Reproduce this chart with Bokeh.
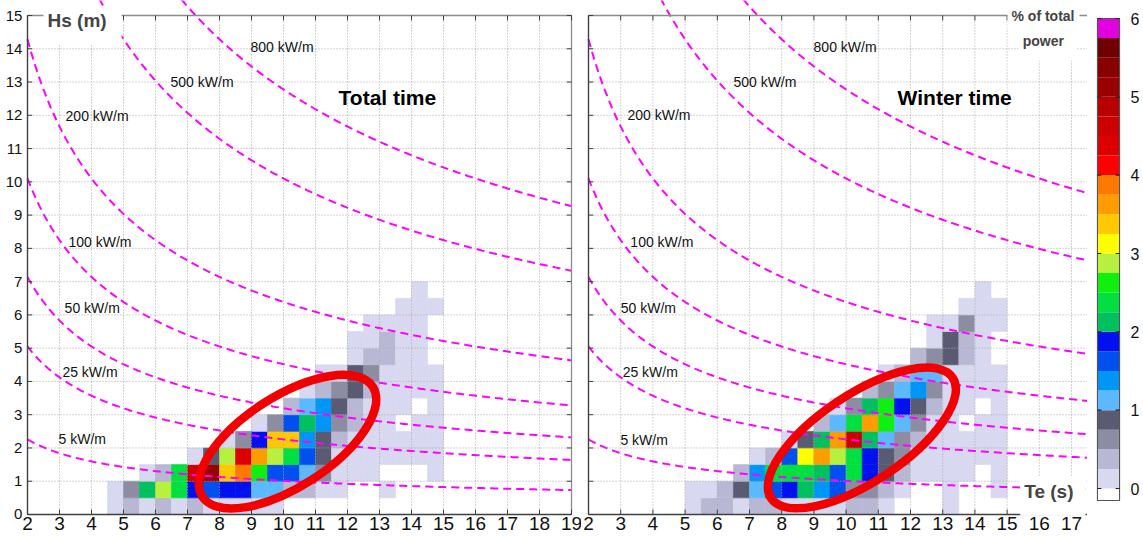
import numpy as np
from bokeh.plotting import figure
from bokeh.models import (ColumnDataSource, LinearColorMapper, FixedTicker,
                          Label, Range1d)
from bokeh.layouts import row
from bokeh.core.properties import value
from bokeh.embed import file_html
from bokeh.resources import INLINE

# ------------------------------------------------------------------ data
# lower edges of the Te (s) and Hs (m) bins (bin size 0.5)
te_bins = [4.5, 5.0, 5.5, 6.0, 6.5, 7.0, 7.5, 8.0, 8.5, 9.0, 9.5, 10.0,
           10.5, 11.0, 11.5, 12.0, 12.5, 13.0, 13.5, 14.0, 14.5]
hs_bins = [0.0, 0.5, 1.0, 1.5, 2.0, 2.5, 3.0, 3.5, 4.0, 4.5, 5.0, 5.5, 6.0, 6.5]

# % of total power per (Hs row, Te column); 0 = empty cell
total_time = [
    [.1, .4, .1, .4, .1, .4, .1, .1, .1, .1, .1, 0, 0, 0, 0, 0, 0, 0, 0, 0, 0],
    [.1, .6, 2.1, 2.9, 2.4, 1.9, 1.6, 1.9, 1.9, 1.1, 1.1, .4, .4, .1, .1, 0, 0, .1, 0, 0, 0],
    [0, 0, .1, .4, 2.4, 4.6, 5.1, 3.4, 3.9, 2.6, 1.6, 1.6, 1.1, .6, .1, .1, .1, 0, 0, 0, .1],
    [0, 0, 0, 0, 0, .1, .9, 2.9, 4.4, 3.6, 2.9, 2.4, 1.6, .9, .1, .1, .1, .1, .1, .1, .1],
    [0, 0, 0, 0, 0, 0, 0, .1, .6, 1.9, 3.4, 3.4, 1.4, .9, .4, .1, .1, .1, .1, .1, .1],
    [0, 0, 0, 0, 0, 0, 0, 0, 0, .1, .6, 1.6, 2.1, 1.4, .6, .4, .1, .1, 0, .1, .1],
    [0, 0, 0, 0, 0, 0, 0, 0, 0, 0, 0, .4, 1.1, 1.4, .9, .4, .1, .1, .1, 0, .1],
    [0, 0, 0, 0, 0, 0, 0, 0, 0, 0, 0, 0, .1, .4, .6, .9, .4, .1, .1, .1, .1],
    [0, 0, 0, 0, 0, 0, 0, 0, 0, 0, 0, 0, 0, .1, .1, .9, .6, .1, .1, .1, .1],
    [0, 0, 0, 0, 0, 0, 0, 0, 0, 0, 0, 0, 0, 0, 0, .1, .4, .4, .1, .1, 0],
    [0, 0, 0, 0, 0, 0, 0, 0, 0, 0, 0, 0, 0, 0, 0, .1, .1, .4, .1, .1, 0],
    [0, 0, 0, 0, 0, 0, 0, 0, 0, 0, 0, 0, 0, 0, 0, 0, .1, .1, .1, .1, 0],
    [0, 0, 0, 0, 0, 0, 0, 0, 0, 0, 0, 0, 0, 0, 0, 0, 0, 0, .1, .1, .1],
    [0, 0, 0, 0, 0, 0, 0, 0, 0, 0, 0, 0, 0, 0, 0, 0, 0, 0, 0, .1, 0],
]

winter_time = [
    [0, .1, .4, .4, .1, .4, .4, .1, .1, .1, .1, .4, .4, .1, 0, 0, 0, .1, 0, 0, 0],
    [0, .1, .1, .4, .9, 1.1, 1.6, 1.9, 2.1, 1.4, 1.6, .6, .6, .4, .1, 0, 0, .1, 0, 0, .1],
    [0, 0, 0, 0, .4, 1.4, 2.4, 2.4, 2.4, 2.1, 1.6, 2.4, 1.9, .9, .4, .1, .1, .1, .1, 0, .1],
    [0, 0, 0, 0, 0, .1, .4, 1.6, 3.1, 3.6, 2.9, 2.4, 1.9, .9, .6, .1, .1, .1, .1, .1, .1],
    [0, 0, 0, 0, 0, 0, 0, .1, .9, 2.1, 3.6, 4.6, 2.1, 1.1, .6, .4, .1, .1, .1, .1, .1],
    [0, 0, 0, 0, 0, 0, 0, 0, 0, .4, 1.1, 2.4, 3.6, 2.6, 1.1, .6, .1, .1, 0, .1, .1],
    [0, 0, 0, 0, 0, 0, 0, 0, 0, 0, .1, .6, 2.1, 2.6, 1.9, .9, .4, .1, .1, 0, .1],
    [0, 0, 0, 0, 0, 0, 0, 0, 0, 0, 0, 0, .4, .6, 1.1, 1.4, .6, .1, .1, .1, .1],
    [0, 0, 0, 0, 0, 0, 0, 0, 0, 0, 0, 0, 0, .1, .4, 1.1, 1.1, .1, .1, .1, .1],
    [0, 0, 0, 0, 0, 0, 0, 0, 0, 0, 0, 0, 0, 0, 0, .4, .6, .9, .4, .1, 0],
    [0, 0, 0, 0, 0, 0, 0, 0, 0, 0, 0, 0, 0, 0, 0, 0, .1, .9, .4, .1, 0],
    [0, 0, 0, 0, 0, 0, 0, 0, 0, 0, 0, 0, 0, 0, 0, 0, .1, .1, .6, .1, .1],
    [0, 0, 0, 0, 0, 0, 0, 0, 0, 0, 0, 0, 0, 0, 0, 0, 0, 0, .1, .1, .1],
    [0, 0, 0, 0, 0, 0, 0, 0, 0, 0, 0, 0, 0, 0, 0, 0, 0, 0, 0, .1, 0],
]

# iso-power lines P = 0.49 Hs^2 Te (kW/m)
power_levels = [5, 25, 50, 100, 200, 500, 800]
power_labels = ["5 kW/m", "25 kW/m", "50 kW/m", "100 kW/m",
                "200 kW/m", "500 kW/m", "800 kW/m"]

# colour scale: 24 steps of 0.25 % from 0 to 6 %
level_colors = ["#d8d8f0", "#b8b8d4", "#8c8ca2", "#5a5a72",
                "#5cb8ff", "#0096f5", "#0050f0", "#0010ee",
                "#00c060", "#00e040", "#10f010", "#b8f040",
                "#ffff00", "#ffc800", "#ff9c00", "#ff7800",
                "#ff0000", "#dd0000", "#cc0000", "#b80000",
                "#990000", "#880000", "#700000", "#e000e0"]
colorbar_ticks = [0, 1, 2, 3, 4, 5, 6]
x_ticks_total = list(range(2, 20))
x_ticks_winter = list(range(2, 18))
y_ticks = list(range(0, 16))

# ------------------------------------------------------------------ style / layout
FONT = "Liberation Sans"
H = 537
Y_LO, Y_HI = -0.6914, 15.451      # frame covers the whole figure height
HS_MAX = 15
MAG = "#ff00ff"
EDGE = "#8c8c8c"
AX = "#404040"
GRID = "#a8a8a8"
mapper = LinearColorMapper(palette=level_colors, low=0, high=6)

total_label_pos = [(2.97, 2.28), (3.09, 4.27), (3.16, 6.22), (3.28, 8.2),
                   (3.19, 11.97), (6.47, 13.01), (8.97, 14.04)]
winter_label_pos = [(2.99, 2.25), (3.06, 4.27), (3.0, 6.22), (3.3, 8.2),
                    (3.21, 12.0), (6.5, 13.0), (8.99, 14.04)]


def cells(grid):
    step = te_bins[1] - te_bins[0]
    xs, ys, vs = [], [], []
    for i, hs in enumerate(hs_bins):
        for j, te in enumerate(te_bins):
            v = grid[i][j]
            if v > 0:
                xs.append(te + step / 2)
                ys.append(hs + step / 2)
                vs.append(v)
    return ColumnDataSource(dict(x=xs, y=ys, v=vs))


def panel(grid, x_lo, x_hi, x_end, x_ticks, width, label_pos, title,
          title_pos, ell, y_labels, right_border):
    x0 = x_ticks[0]
    p = figure(width=width, height=H, x_range=Range1d(x_lo, x_hi),
               y_range=Range1d(Y_LO, Y_HI), x_axis_type=None,
               y_axis_type=None, title=None, output_backend="svg",
               toolbar_location=None, min_border=0)
    p.background_fill_color = "white"
    p.border_fill_color = "white"
    p.outline_line_color = None

    # heat-map cells
    p.rect("x", "y", width=0.5, height=0.5, source=cells(grid),
           fill_color={"field": "v", "transform": mapper},
           line_color={"field": "v", "transform": mapper}, line_width=0.6)

    # dotted grid
    n, m = len(x_ticks), len(y_ticks)
    p.segment(x0=x_ticks, y0=[0] * n, x1=x_ticks, y1=[HS_MAX] * n,
              line_color=GRID, line_dash="1 2", line_width=1)
    p.segment(x0=[x0] * m, y0=y_ticks, x1=[x_end] * m, y1=y_ticks,
              line_color=GRID, line_dash="1 2", line_width=1)

    # iso-power lines
    te = np.linspace(x0, x_end, 400)
    for P in power_levels:
        p.line(te, np.sqrt(P / (0.49 * te)), line_color=MAG, line_width=2,
               line_dash="8 5")

    # frame borders
    p.segment(x0=[x0], y0=[HS_MAX], x1=[x_end], y1=[HS_MAX],
              line_color=EDGE, line_width=1.3)
    if right_border:
        p.segment(x0=[x_end], y0=[0], x1=[x_end], y1=[HS_MAX],
                  line_color=EDGE, line_width=1.3)
        p.segment(x0=[x_end] * m, x1=[x_end - 0.15] * m, y0=y_ticks,
                  y1=y_ticks, line_color=AX, line_width=1)
    p.segment(x0=[x0, x0], y0=[0, 0], x1=[x_end, x0], y1=[0, HS_MAX],
              line_color=AX, line_width=1.4)
    # inward ticks
    p.segment(x0=x_ticks, x1=x_ticks, y0=[0] * n, y1=[0.15] * n,
              line_color=AX, line_width=1)
    p.segment(x0=x_ticks, x1=x_ticks, y0=[HS_MAX] * n, y1=[HS_MAX - 0.15] * n,
              line_color=AX, line_width=1)
    p.segment(x0=[x0] * m, x1=[x0 + 0.15] * m, y0=y_ticks, y1=y_ticks,
              line_color=AX, line_width=1)

    # tick labels
    p.text(x=x_ticks, y=[-0.07] * n, text=[str(t) for t in x_ticks],
           text_font=value(FONT), text_font_size="19px", text_color="#111111",
           text_align="center", text_baseline="top")
    if y_labels:
        p.text(x=[x0 - 0.16] * m, y=y_ticks, text=[str(t) for t in y_ticks],
               text_font=value(FONT), text_font_size="15px",
               text_color="#111111", text_align="right",
               text_baseline="middle")

    for (lx, ly), txt in zip(label_pos, power_labels):
        p.add_layout(Label(x=lx, y=ly, text=txt, text_font=FONT,
                           text_font_size="14px", text_color="#111111",
                           text_align="left", text_baseline="middle"))

    cx, cy, w, h, a = ell
    p.ellipse(x=[cx], y=[cy], width=[w], height=[h], angle=[a],
              fill_color=None, line_color="#f20000", line_width=8.5)

    p.add_layout(Label(x=title_pos[0], y=title_pos[1], text=title,
                       text_font=FONT, text_font_size="21px",
                       text_font_style="bold", text_color="black",
                       text_align="left", text_baseline="middle"))
    return p


# left panel: total time   (Te 2 -> 27 px, Te 19 -> 571 px)
p1 = panel(total_time, 2 - 27 / 32, 19 + 10 / 32, 19, x_ticks_total, 581,
           total_label_pos, "Total time", (11.72, 12.53),
           (10.125, 2.19, 6.34, 2.72, 0.572), True, True)
p1.add_layout(Label(x=3.72, y=14.7, text="Hs (m)", text_font=FONT,
                    text_font_size="19px", text_font_style="bold",
                    text_align="center", text_baseline="middle",
                    background_fill_color="white", padding=(4, 15, 4, 13)))

# right panel: winter time   (Te 2 -> 588 px, right edge 1087 px)
p2 = panel(winter_time, 2 - 7 / 32.2, 2 + 499 / 32.2, 17.5, x_ticks_winter,
           506, winter_label_pos, "Winter time", (11.6, 12.53),
           (10.49, 2.30, 6.77, 2.63, 0.585), False, False)
p2.add_layout(Label(x=16.42, y=0.55, text="Te (s)", text_font=FONT,
                    text_font_size="19px", text_font_style="bold",
                    text_align="center", text_baseline="middle",
                    background_fill_color="white", padding=(4, 12, 4, 14)))
p2.add_layout(Label(x=16.13, y=14.96, text="% of total", text_font=FONT,
                    text_font_size="14px", text_font_style="bold",
                    text_align="center", text_baseline="middle",
                    background_fill_color="white", padding=(4, 5, 4, 5)))
p2.add_layout(Label(x=16.25, y=14.12, text="power", text_font=FONT,
                    text_font_size="14px", text_font_style="bold",
                    text_align="center", text_baseline="middle",
                    background_fill_color="white", padding=(4, 12, 4, 12)))

# colour bar: frame spans the full height (same borders as the panels),
# value 6 at 18 px, value 0 at 488 px
CB_PX = 470 / 6
CB_LO, CB_HI = -(H - 488) / CB_PX, 6 + 18 / CB_PX
CB_BOTTOM = -0.153
levels = np.linspace(colorbar_ticks[0], colorbar_ticks[-1], len(level_colors) + 1)
cb = figure(width=55, height=H, x_range=Range1d(-0.04, 1.04),
            y_range=Range1d(CB_LO, CB_HI), x_axis_type=None,
            y_axis_location="right", title=None, output_backend="svg",
            toolbar_location=None, min_border_left=9, min_border_right=17,
            min_border_top=0, min_border_bottom=0)
cb.background_fill_color = "white"
cb.border_fill_color = "white"
cb.outline_line_color = None
cb.grid.visible = False
cb.quad(left=0, right=1, bottom=levels[:-1], top=levels[1:],
        fill_color=level_colors, line_color=None)
cb.quad(left=[0], right=[1], bottom=[CB_BOTTOM], top=[6], fill_color=None,
        line_color="#555555", line_width=1.2)
cb.segment(x0=[0] * len(colorbar_ticks), x1=[0.18] * len(colorbar_ticks),
           y0=colorbar_ticks, y1=colorbar_ticks,
           line_color="#222222", line_width=1.2)
cb.segment(x0=[1] * len(colorbar_ticks), x1=[0.82] * len(colorbar_ticks),
           y0=colorbar_ticks, y1=colorbar_ticks,
           line_color="#222222", line_width=1.2)
cb.yaxis.axis_label = None
cb.yaxis.bounds = (CB_BOTTOM, 6)
cb.yaxis.ticker = FixedTicker(ticks=colorbar_ticks)
cb.yaxis.axis_line_color = None
cb.yaxis.major_tick_line_color = None
cb.yaxis.minor_tick_line_color = None
cb.yaxis.major_label_text_font = FONT
cb.yaxis.major_label_text_font_size = "16px"
cb.yaxis.major_label_standoff = 4
cb.yaxis.major_label_text_color = "#111111"

layout = row(p1, p2, cb)
open("out.html", "w").write(file_html(layout, INLINE))
